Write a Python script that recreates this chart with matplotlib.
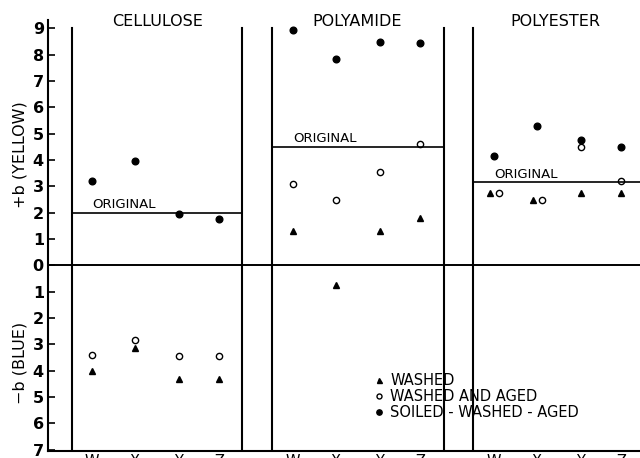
import numpy as np
import matplotlib
matplotlib.use("Agg")
import matplotlib.pyplot as plt
from matplotlib import transforms

plt.rcParams['font.family'] = ['DejaVu Sans']

fibres = ["CELLULOSE", "POLYAMIDE", "POLYESTER"]
fabrics = ["W", "X", "Y", "Z"]

# +b is yellow, -b is blue
washed = [[-4.0, -3.15, -4.3, -4.3],
          [1.3, -0.75, 1.3, 1.8],
          [2.75, 2.5, 2.75, 2.75]]
washed_aged = [[-3.4, -2.85, -3.45, -3.45],
               [3.1, 2.5, 3.55, 4.6],
               [2.75, 2.5, 4.5, 3.2]]
soiled = [[3.2, 3.95, 1.95, 1.75],
          [8.95, 7.85, 8.5, 8.45],
          [4.15, 5.3, 4.75, 4.5]]
original = [2.0, 4.5, 3.15]

# layout (x units)
offset = 4.675
xpos = np.array([1.02, 2.02, 3.04, 3.98])
panel_edges = [(0.56, 4.51), (5.21, 9.21), (9.88, 13.77)]
title_x = [2.56, 7.19, 11.79]
# small side shifts where two marks sit next to each other (polyester W, X)
shift_tri = [[0, 0, 0, 0], [0, 0, 0, 0], [-0.1, -0.1, 0, 0]]
shift_circ = [[0, 0, 0, 0], [0, 0, 0, 0], [0.12, 0.12, 0, 0]]

fig = plt.figure(figsize=(6.4, 4.58), dpi=100)
ax = fig.add_axes([0.075, 0.0153, 0.925, 0.94])
ax.set_xlim(0, 13.77)
ax.set_ylim(-7.05, 9.3)

for i in range(3):
    x = xpos + i * offset
    ax.plot(x + np.array(shift_tri[i]), washed[i], '^', color='black', ms=4.5, ls='none',
            label='WASHED' if i == 0 else None)
    ax.plot(x + np.array(shift_circ[i]), washed_aged[i], 'o', mfc='white', mec='black', mew=1.0,
            ms=4.5, ls='none', label='WASHED AND AGED' if i == 0 else None)
    ax.plot(x, soiled[i], 'o', color='black', ms=4.8, ls='none',
            label='SOILED - WASHED - AGED' if i == 0 else None)
    l, r = panel_edges[i]
    ax.plot([l, r], [original[i], original[i]], color='black', lw=1.2)
    ax.text(xpos[0] + i * offset, original[i] + 0.06, "ORIGINAL", fontsize=9.5,
            ha='left', va='bottom')
    ax.text(title_x[i], 9.27, fibres[i], fontsize=11.5, ha='center', va='center',
            clip_on=False)

for l, r in panel_edges:
    for xv in (l, r):
        if xv < 13.7:
            ax.plot([xv, xv], [-7.05, 9.0], color='black', lw=1.5)

ax.axhline(0, color='black', lw=1.4)

ax.spines['top'].set_visible(False)
ax.spines['right'].set_visible(False)
ax.spines['left'].set_linewidth(1.5)
ax.spines['bottom'].set_linewidth(1.5)

yt = list(range(-7, 10))
ax.set_yticks(yt)
ax.set_yticklabels([str(abs(v)) for v in yt], fontsize=11.5, fontweight='bold')
ax.tick_params(axis='y', direction='in', length=5, width=1.2, pad=3)

xt = np.concatenate([xpos + i * offset for i in range(3)])
ax.set_xticks(xt)
ax.set_xticklabels(fabrics * 3, fontsize=10.5)
ax.tick_params(axis='x', length=0, pad=2)

trans = transforms.blended_transform_factory(ax.transAxes, ax.transData)
ax.text(-0.048, 4.2, "+b (YELLOW)", rotation=90, fontsize=11.5, ha='center', va='center',
        transform=trans)
ax.text(-0.048, -3.7, "\u2212b (BLUE)", rotation=90, fontsize=11.5, ha='center', va='center',
        transform=trans)

ax.legend(loc='upper left', bbox_to_anchor=(0.552, 0.182), frameon=False, fontsize=10.5,
          handlelength=0.6, handletextpad=0.45, labelspacing=0.08, borderpad=0,
          borderaxespad=0, markerscale=0.8)

fig.savefig("out.png", dpi=100)
